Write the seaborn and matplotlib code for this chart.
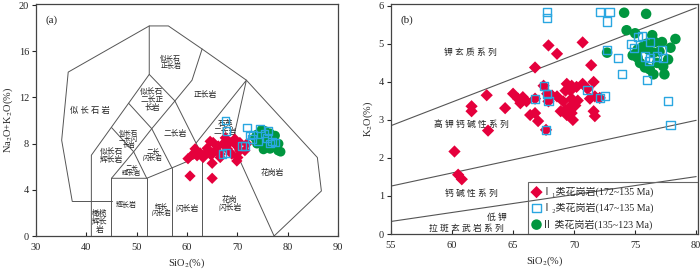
import matplotlib
matplotlib.use("Agg")
import matplotlib.pyplot as plt
from matplotlib.patches import Rectangle
import seaborn as sns
import pandas as pd

# ---- panel (a): TAS, SiO2 vs Na2O+K2O ----
i1_sio2_a = [60.6, 65.0, 65.0, 60.2, 61.6, 62.6, 62.0, 63.2, 61.2, 64.0, 65.2, 66.2, 67.2,
             65.6, 66.6, 68.0, 68.5, 69.5, 69.9, 70.5, 68.9, 70.1, 69.9, 71.5, 71.9, 64.6,
             67.6, 66.6, 70.5, 63.8, 64.8]
i1_alk_a = [5.2, 5.0, 6.3, 6.7, 7.55, 7.2, 6.95, 6.8, 7.1, 7.6, 8.1, 7.8, 8.0,
            7.4, 7.1, 7.55, 8.1, 8.4, 7.8, 8.1, 7.1, 6.8, 6.5, 7.4, 8.0, 8.2,
            8.5, 6.8, 7.4, 7.2, 7.0]
i2_sio2_a = [67.6, 67.9, 67.0, 67.9, 71.9, 72.5, 73.1, 70.9, 71.5, 74.5, 74.1, 75.9, 76.9,
             76.5, 77.5, 72.9, 76.2, 75.4]
i2_alk_a = [10.0, 9.1, 7.1, 7.2, 9.4, 8.7, 8.8, 7.8, 7.8, 9.3, 8.2, 8.5, 8.2,
            8.0, 8.1, 8.4, 9.1, 8.9]
ii_sio2_a = [73.9, 74.5, 75.5, 76.5, 77.5, 77.1, 77.9, 76.5, 75.5, 74.9, 75.9, 73.9, 78.1,
             78.6, 74.8, 76.0, 77.0, 78.2, 73.5, 75.2]
ii_alk_a = [8.8, 8.9, 9.1, 8.9, 8.7, 8.1, 7.6, 7.55, 7.8, 8.1, 8.2, 8.0, 7.4,
            7.3, 9.2, 8.6, 8.4, 8.0, 8.5, 7.5]

# ---- panel (b): SiO2 vs K2O ----
i1_sio2_b = [62.84, 61.6, 61.6, 62.95, 64.35, 65.0, 65.4, 65.8, 65.6, 66.1, 66.8, 67.9, 66.8,
             67.05, 67.7, 67.5, 66.8, 67.8, 67.9, 68.6, 70.7, 71.4, 69.4, 69.8, 70.2, 69.7,
             69.3, 70.7, 71.1, 71.6, 68.2, 68.6, 69.1, 69.8, 70.3, 70.1, 69.7, 71.3, 71.7,
             72.1, 68.9, 69.3, 69.8, 69.4, 71.6, 71.7, 69.9, 60.2, 60.5, 60.8, 66.4]
i1_k2o_b = [3.65, 3.36, 3.23, 2.72, 3.31, 3.69, 3.56, 3.6, 3.44, 3.49, 4.38, 4.96, 3.18,
            2.97, 2.74, 3.9, 3.56, 3.69, 3.49, 4.74, 5.04, 4.44, 3.95, 3.9, 3.87, 3.77,
            3.77, 3.95, 3.82, 4.0, 3.64, 3.62, 3.49, 3.56, 3.51, 3.38, 3.36, 3.56, 3.62,
            3.58, 3.23, 3.26, 3.18, 3.13, 3.23, 3.1, 3.0, 2.17, 1.56, 1.44, 3.13]
i2_sio2_b = [67.8, 67.8, 72.1, 72.9, 72.7, 75.2, 75.6, 74.7, 72.7, 73.6, 73.9, 76.0, 76.2,
             77.2, 75.8, 76.2, 76.8, 77.3, 76.1, 77.7, 77.9, 74.9, 71.1, 72.5, 72.1, 67.5,
             66.8, 67.9, 67.8, 67.7]
i2_k2o_b = [5.85, 5.67, 5.85, 5.85, 5.59, 5.18, 5.21, 4.99, 4.85, 4.63, 4.2, 4.05, 5.06,
            4.85, 4.67, 4.64, 4.67, 4.64, 4.55, 3.49, 2.87, 4.9, 3.78, 3.64, 3.58, 3.9,
            3.56, 3.49, 3.69, 2.74]
ii_sio2_b = [74.1, 75.9, 74.3, 75.0, 76.4, 78.3, 77.2, 77.9, 72.7, 75.2, 75.6, 75.2, 75.4,
             75.8, 76.2, 77.3, 76.8, 77.7, 76.5, 77.0, 76.1, 75.9, 76.6, 74.8, 77.4, 76.5]
ii_k2o_b = [5.82, 5.79, 5.36, 5.28, 5.23, 5.13, 5.05, 4.9, 4.77, 4.85, 4.92, 4.64, 4.5,
            4.38, 4.33, 4.41, 4.5, 4.59, 4.77, 4.8, 4.85, 5.0, 5.05, 4.7, 4.2, 4.2]

groups = ["Ⅰ₁类花岗岩(172~135 Ma)", "Ⅰ₂类花岗岩(147~135 Ma)", "Ⅱ 类花岗岩(135~123 Ma)"]
red, blue, green = "#e5003c", "#2aa7e1", "#00963f"
line_col = "#555555"

# TAS (Middlemost 1994) field boundaries
tas_lines = [
    ([37.2, 35.1, 36.4, 52.5, 56.3, 63, 71.8, 85.9, 86.7, 77.3],
     [3, 8.3, 14.2, 18.2, 18.2, 16.2, 13.5, 6.8, 3.9, 0]),
    ([37.2, 45], [3, 3]),
    ([41, 41, 52.5, 52.5], [0, 7, 14, 18.2]),
    ([45, 45, 52, 57, 63, 69, 77.3], [0, 5, 5, 5.9, 7, 8, 0]),
    ([52, 52], [0, 5]), ([57, 57], [0, 5.9]), ([63, 63], [0, 7]),
    ([45, 49.4, 53, 57.6, 61, 63], [5, 7.3, 9.3, 11.7, 13.5, 16.2]),
    ([45, 49.4, 52], [9.4, 7.3, 5]),
    ([48.4, 53, 57], [11.5, 9.3, 5.9]),
    ([52.5, 57.6, 63], [14, 11.7, 7]),
    ([69, 71.8, 61.8], [8, 13.5, 8.05]),
]
tas_names = [
    ("似 长 石 岩", 40.7, 10.8, 6),
    ("似长石\n正长岩", 56.8, 15.1, 5),
    ("似长石\n二长正\n长岩", 53.0, 11.8, 5.6),
    ("似长石\n二长闪\n长岩", 48.4, 8.4, 4.6),
    ("似长石\n辉长岩", 45.0, 6.9, 5.6),
    ("二长\n辉长岩", 49.0, 5.7, 4.6),
    ("二长\n闪长岩", 53.2, 7.1, 4.8),
    ("二长岩", 57.6, 8.8, 5.6),
    ("正长岩", 63.6, 12.2, 5.6),
    ("石英\n二长岩", 67.6, 9.4, 5.6),
    ("花岗岩", 76.9, 5.5, 5.6),
    ("花岗\n闪长岩", 68.5, 2.8, 5.6),
    ("闪长岩", 60.0, 2.3, 5.6),
    ("辉长\n闪长岩", 55.0, 2.3, 4.8),
    ("辉长岩", 47.9, 2.7, 5),
    ("橄榄\n辉长\n岩", 42.7, 1.2, 5.6),
]

# K2O series boundaries
k_lines = [([55, 80], [2.85, 5.95]), ([55, 80], [1.26, 2.99]), ([55, 80], [0.33, 1.51])]
k_names = [
    ("钾 玄 质 系 列", 61.5, 4.77),
    ("高 钾 钙 碱 性 系 列", 61.6, 2.87),
    ("钙 碱 性 系 列", 61.6, 1.05),
    ("低 钾", 63.7, 0.44),
    ("拉 斑 玄 武 岩 系 列", 61.2, 0.15),
]

sns.set_style("ticks")
plt.rcParams["font.family"] = ["Liberation Serif", "Noto Sans CJK SC", "DejaVu Serif"]
plt.rcParams["mathtext.fontset"] = "stix"
plt.rcParams["axes.linewidth"] = 0.9
plt.rcParams["axes.edgecolor"] = "#444444"

fig = plt.figure(figsize=(7, 2.74), dpi=100)
ax1 = fig.add_axes([36 / 700, 1 - 236 / 274, 302 / 700, 232 / 274])
ax2 = fig.add_axes([391 / 700, 1 - 234 / 274, 307 / 700, 230 / 274])


def draw_points(ax, xs, ys, k):
    sns.scatterplot(x=xs[0], y=ys[0], ax=ax, marker="D", s=30 * k, color=red,
                    edgecolor="none", linewidth=0, label=groups[0], zorder=3)
    sns.scatterplot(x=xs[2], y=ys[2], ax=ax, marker="o", s=44 * k, color=green,
                    edgecolor="none", linewidth=0, label=groups[2], zorder=3)
    sns.scatterplot(x=xs[1], y=ys[1], ax=ax, marker="s", s=26 * k, facecolor="none",
                    edgecolor=blue, linewidth=1.0, label=groups[1], zorder=4)


# panel (a)
for lx, ly in tas_lines:
    ax1.plot(lx, ly, color=line_col, lw=0.7, zorder=1)
for txt, x, y, fs in tas_names:
    ax1.text(x, y, txt, fontsize=fs, ha="center", va="center", linespacing=1.0, color="#222222")
draw_points(ax1, [i1_sio2_a, i2_sio2_a, ii_sio2_a], [i1_alk_a, i2_alk_a, ii_alk_a], 1.1)
ax1.get_legend().remove()
ax1.set_xlim(30, 90)
ax1.set_ylim(0, 20.1)
ax1.set_xticks(range(30, 91, 10))
ax1.set_yticks(range(0, 21, 4))
ax1.set_xlabel(r"SiO$_2$(%)", fontsize=7.5, labelpad=3)
ax1.set_ylabel(r"Na$_2$O+K$_2$O(%)", fontsize=7.5, labelpad=3)
ax1.text(0.03, 0.95, "(a)", transform=ax1.transAxes, fontsize=8, va="top")

# panel (b)
for lx, ly in k_lines:
    ax2.plot(lx, ly, color=line_col, lw=0.8, zorder=1)
for txt, x, y in k_names:
    ax2.text(x, y, txt, fontsize=6.3, ha="center", va="center", color="#222222")
draw_points(ax2, [i1_sio2_b, i2_sio2_b, ii_sio2_b], [i1_k2o_b, i2_k2o_b, ii_k2o_b], 1.3)
ax2.set_xlim(55, 80.15)
ax2.set_ylim(0, 6.05)
ax2.set_xticks(range(55, 81, 5))
ax2.set_yticks(range(0, 7))
ax2.set_xlabel(r"SiO$_2$(%)", fontsize=7.5, labelpad=3)
ax2.set_ylabel(r"K$_2$O(%)", fontsize=7.5, labelpad=3)
ax2.text(0.03, 0.95, "(b)", transform=ax2.transAxes, fontsize=8, va="top")

h, l = ax2.get_legend_handles_labels()
order = [l.index(g) for g in groups]
leg = ax2.legend([h[i] for i in order], [l[i] for i in order], loc="lower left",
                 bbox_to_anchor=(137 / 307, 0.0), borderaxespad=0, fontsize=7.2,
                 frameon=False, handletextpad=0.2, handlelength=0.8,
                 labelspacing=0.6, borderpad=0.45)
ax2.add_patch(Rectangle((137 / 307, 0), 170 / 307, 52 / 230, transform=ax2.transAxes,
                        fill=False, ec="#666666", lw=0.8, zorder=5))

for ax in (ax1, ax2):
    ax.tick_params(axis="x", direction="in", length=3, width=0.8, labelsize=7.5, pad=5)
    ax.tick_params(axis="y", direction="out", length=3, width=0.8, labelsize=7.5, pad=2)
    for sp in ax.spines.values():
        sp.set_visible(True)

fig.savefig("out.png", dpi=100)
